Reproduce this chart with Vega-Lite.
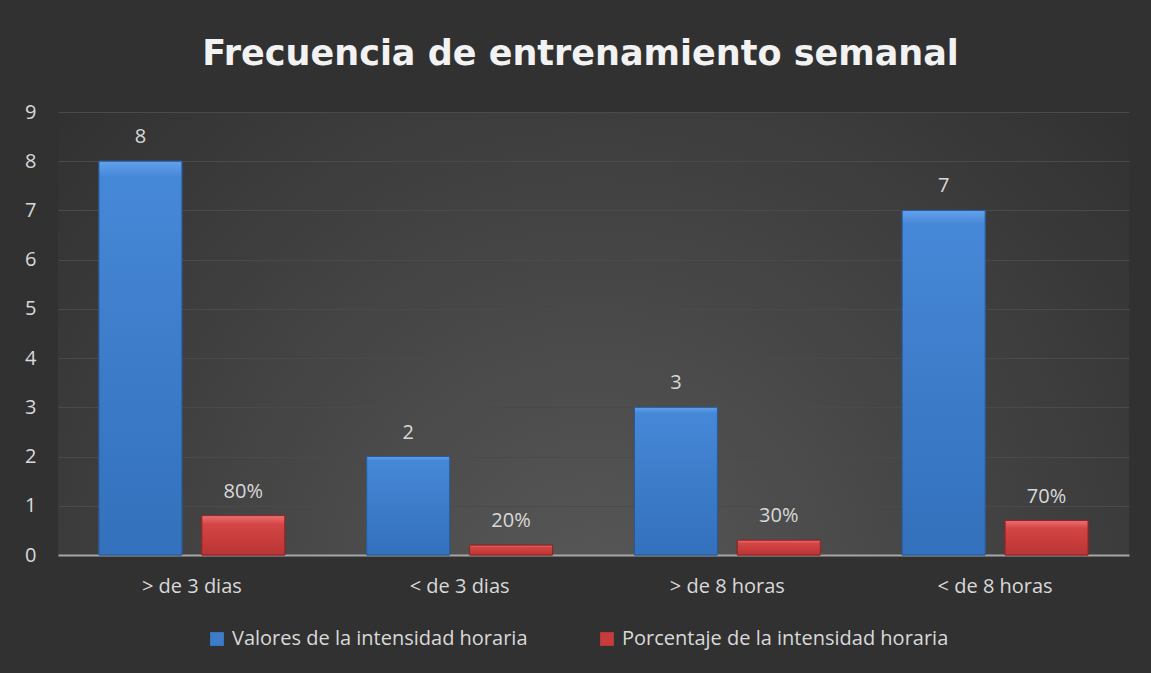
{
  "$schema": "https://vega.github.io/schema/vega-lite/v6.json",
  "autosize": {"type": "none"},
  "width": 1071,
  "height": 443,
  "padding": {"left": 58, "top": 112, "right": 22, "bottom": 118},
  "background": "#313131",
  "view": {
    "stroke": null,
    "fill": {
      "gradient": "radial",
      "x1": 0.5, "y1": 0.75, "r1": 0,
      "x2": 0.5, "y2": 0.75, "r2": 0.75,
      "stops": [
        {"offset": 0, "color": "#585858"},
        {"offset": 1, "color": "#2d2d2d"}
      ]
    }
  },
  "title": {
    "text": "Frecuencia de entrenamiento semanal",
    "font": "DejaVu Sans",
    "fontSize": 35,
    "fontWeight": "bold",
    "color": "#f2f2f2",
    "anchor": "middle",
    "baseline": "alphabetic",
    "dx": -13,
    "offset": 2
  },
  "data": {
    "values": [
      {"categoria": "> de 3 dias", "serie": "Valores  de la intensidad horaria", "valor": 8, "etiqueta": "8"},
      {"categoria": "> de 3 dias", "serie": "Porcentaje de la intensidad horaria", "valor": 0.8, "etiqueta": "80%"},
      {"categoria": "< de 3 dias", "serie": "Valores  de la intensidad horaria", "valor": 2, "etiqueta": "2"},
      {"categoria": "< de 3 dias", "serie": "Porcentaje de la intensidad horaria", "valor": 0.2, "etiqueta": "20%"},
      {"categoria": "> de 8 horas", "serie": "Valores  de la intensidad horaria", "valor": 3, "etiqueta": "3"},
      {"categoria": "> de 8 horas", "serie": "Porcentaje de la intensidad horaria", "valor": 0.3, "etiqueta": "30%"},
      {"categoria": "< de 8 horas", "serie": "Valores  de la intensidad horaria", "valor": 7, "etiqueta": "7"},
      {"categoria": "< de 8 horas", "serie": "Porcentaje de la intensidad horaria", "valor": 0.7, "etiqueta": "70%"}
    ]
  },
  "encoding": {
    "x": {
      "field": "categoria",
      "type": "nominal",
      "sort": null,
      "scale": {"paddingInner": 0.306, "paddingOuter": 0.153},
      "axis": {
        "title": null,
        "labelAngle": 0,
        "labelFont": "Open Sans",
        "labelFontSize": 20,
        "labelColor": "#d9d9d9",
        "labelPadding": 21,
        "ticks": false,
        "domainColor": "#a6a6a6",
        "domainWidth": 2,
        "grid": false
      }
    },
    "xOffset": {
      "field": "serie",
      "type": "nominal",
      "sort": null,
      "scale": {"paddingInner": 0.194, "paddingOuter": 0}
    },
    "y": {
      "field": "valor",
      "type": "quantitative",
      "scale": {"domain": [0, 9], "nice": false},
      "axis": {
        "title": null,
        "values": [0, 1, 2, 3, 4, 5, 6, 7, 8, 9],
        "labelFont": "Open Sans",
        "labelFontSize": 20,
        "labelColor": "#d9d9d9",
        "labelPadding": 22,
        "ticks": false,
        "domain": false,
        "gridColor": "#4a4a4a",
        "gridWidth": 1
      }
    }
  },
  "layer": [
    {
      "mark": {"type": "bar", "strokeWidth": 1},
      "encoding": {
        "color": {
          "field": "serie",
          "type": "nominal",
          "sort": null,
          "scale": {"range": ["#3d7cc9", "#c73b3b"]},
          "legend": {
            "title": null,
            "orient": "none",
            "legendX": 149,
            "legendY": 517,
            "direction": "horizontal",
            "labelFont": "Open Sans",
            "labelFontSize": 20,
            "labelColor": "#d9d9d9",
            "labelLimit": 0,
            "symbolType": "square",
            "symbolSize": 190,
            "symbolStrokeWidth": 0,
            "columnPadding": 64,
            "labelOffset": 5,
            "padding": 0
          }
        },
        "stroke": {
          "field": "serie",
          "type": "nominal",
          "sort": null,
          "scale": {"range": ["#2b5a96", "#8e2525"]},
          "legend": null
        }
      }
    },
    {
      "transform": [{"filter": "datum.serie === 'Valores  de la intensidad horaria'"}],
      "mark": {
        "type": "bar",
        "stroke": "#2b5a96",
        "strokeWidth": 1,
        "fill": {"gradient": "linear", "x1": 0, "y1": 0, "x2": 0, "y2": 1, "stops": [
          {"offset": 0, "color": "#63a1ec"},
          {"offset": 0.04, "color": "#4688d8"},
          {"offset": 0.5, "color": "#3d7cc9"},
          {"offset": 1, "color": "#3371bd"}
        ]}
      }
    },
    {
      "transform": [{"filter": "datum.serie === 'Porcentaje de la intensidad horaria'"}],
      "mark": {
        "type": "bar",
        "stroke": "#8e2525",
        "strokeWidth": 1,
        "fill": {"gradient": "linear", "x1": 0, "y1": 0, "x2": 0, "y2": 1, "stops": [
          {"offset": 0, "color": "#ee7070"},
          {"offset": 0.22, "color": "#d44646"},
          {"offset": 0.6, "color": "#c83c3c"},
          {"offset": 1, "color": "#b93535"}
        ]}
      }
    },
    {
      "mark": {"type": "text", "font": "Open Sans", "fontSize": 20, "color": "#d9d9d9", "baseline": "middle", "dy": -24},
      "encoding": {
        "text": {"field": "etiqueta"}
      }
    }
  ]
}
